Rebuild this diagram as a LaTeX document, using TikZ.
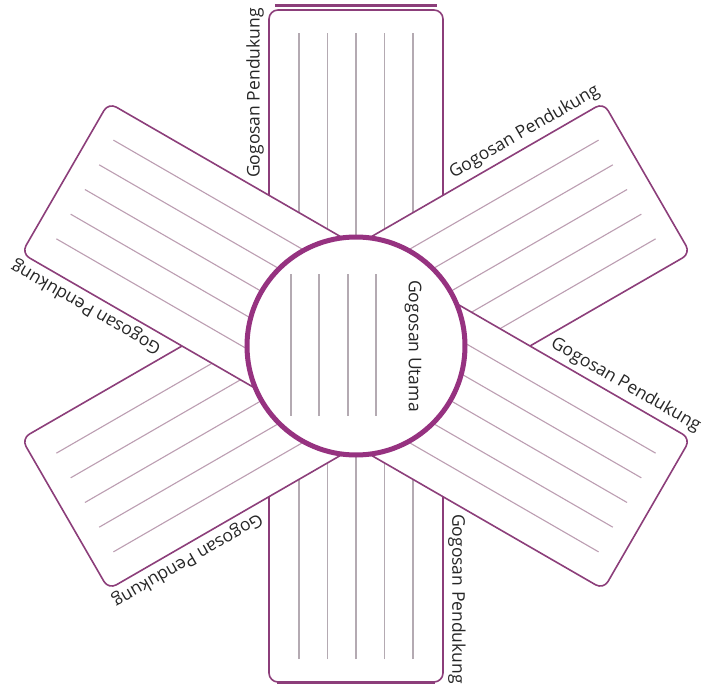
\documentclass[tikz,border=0pt]{standalone}
\usepackage{fontspec}
\setmainfont{Open Sans}
\definecolor{barc}{RGB}{140,62,122}
\definecolor{circc}{RGB}{150,50,128}
\definecolor{linec}{RGB}{188,158,178}
\definecolor{vlinec}{RGB}{180,170,178}
\tikzset{
  barbox/.style={draw=barc, line width=1.6pt, fill=white, rounded corners=9pt},
  ruleline/.style={draw=linec, line width=1.1pt},
  vruleline/.style={draw=vlinec, line width=1.1pt},
  lbl/.style={font=\fontsize{17.5}{20}\selectfont, inner sep=0pt, text=black!85},
}
\begin{document}
\begin{tikzpicture}[x=1pt,y=1pt]
\useasboundingbox (-356,-345) rectangle (350,346);
% vertical bar (bottom layer)
\begin{scope}[rotate=90]
  \draw[barbox] (-336,-87) rectangle (336,87);
  \foreach \o in {-57,-28.5,0,28.5,57} \draw[vruleline] (-313,\o) -- (313,\o);
\end{scope}
\draw[barc, line width=3pt] (-81,340.5) -- (81,340.5);
\draw[barc, line width=1.4pt] (-79,-337) -- (79,-337);
% 30 degree bar
\begin{scope}[rotate=30]
  \draw[barbox] (-336,-87) rectangle (336,87);
  \foreach \o in {-57,-28.5,0,28.5,57} \draw[ruleline] (-313,\o) -- (313,\o);
\end{scope}
% 150 degree bar (top layer)
\begin{scope}[rotate=150]
  \draw[barbox] (-336,-87) rectangle (336,87);
  \foreach \o in {-57,-28.5,0,28.5,57} \draw[ruleline] (-313,\o) -- (313,\o);
\end{scope}
% central circle
\node[circle, draw=circc, line width=5pt, fill=white, minimum size=218pt, inner sep=0pt] (main) at (0,0) {};
\foreach \x in {-65,-37,-8,20} \draw[vruleline] (\x,72) -- (\x,-70);
\node[lbl, rotate=-90] (mainlbl) at (57,0) {Gogosan Utama};
% labels
\begin{scope}[rotate=90]
  \node[lbl, transform shape] (l1) at (253,101) {Gogosan Pendukung};
\end{scope}
\begin{scope}[rotate=30]
  \node[lbl, transform shape] (l2) at (253,101) {Gogosan Pendukung};
\end{scope}
\begin{scope}[rotate=-30]
  \node[lbl, transform shape] (l3) at (253,101) {Gogosan Pendukung};
\end{scope}
\begin{scope}[rotate=-90]
  \node[lbl, transform shape] (l4) at (253,101) {Gogosan Pendukung};
\end{scope}
\begin{scope}[rotate=210]
  \node[lbl, transform shape] (l5) at (253,101) {Gogosan Pendukung};
\end{scope}
\begin{scope}[rotate=150]
  \node[lbl, transform shape] (l6) at (253,101) {Gogosan Pendukung};
\end{scope}
\end{tikzpicture}
\end{document}
